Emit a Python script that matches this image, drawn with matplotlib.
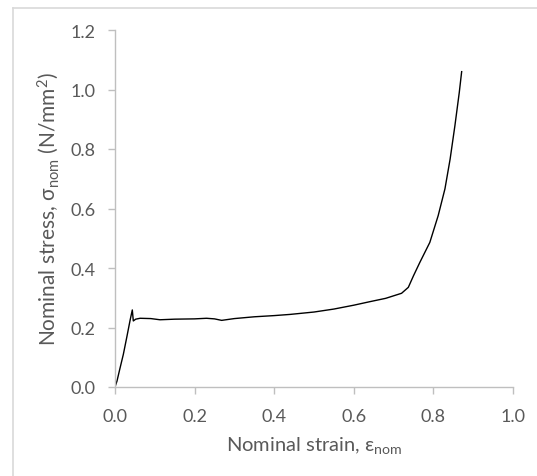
import matplotlib
matplotlib.use("Agg")
import matplotlib.pyplot as plt
from matplotlib.lines import Line2D

plt.rcParams['font.family'] = ['Lato', 'DejaVu Sans']
plt.rcParams['mathtext.fontset'] = 'custom'
plt.rcParams['mathtext.rm'] = 'Lato'
plt.rcParams['mathtext.it'] = 'Lato:italic'

strain = [0.000, 0.005, 0.012, 0.021, 0.030, 0.038, 0.0435, 0.046, 0.052, 0.063,
          0.090, 0.113, 0.150, 0.200, 0.230, 0.250, 0.268, 0.300, 0.350, 0.400,
          0.440, 0.500, 0.550, 0.600, 0.641, 0.680, 0.720, 0.737, 0.750, 0.766,
          0.791, 0.812, 0.829, 0.842, 0.854, 0.865, 0.871]
stress = [0.000, 0.020, 0.060, 0.110, 0.170, 0.225, 0.259, 0.222, 0.228, 0.231,
          0.230, 0.226, 0.228, 0.229, 0.231, 0.229, 0.224, 0.230, 0.236, 0.240,
          0.244, 0.252, 0.262, 0.275, 0.287, 0.298, 0.315, 0.335, 0.374, 0.419,
          0.486, 0.576, 0.666, 0.766, 0.878, 0.990, 1.060]

xticks = [0.0, 0.2, 0.4, 0.6, 0.8, 1.0]
yticks = [0.0, 0.2, 0.4, 0.6, 0.8, 1.0, 1.2]

W, H = 537, 477
fig = plt.figure(figsize=(W / 100, H / 100), dpi=100)
ax = fig.add_axes([115 / W, (H - 388) / H, (513 - 115) / W, (388 - 31) / H])

ax.plot(strain, stress, color='black', lw=1.0)
ax.set_xlim(0, 1.0)
ax.set_ylim(0, 1.2)
ax.set_xticks(xticks)
ax.set_yticks(yticks)
ax.set_xticklabels([f"{v:.1f}" for v in xticks])
ax.set_yticklabels([f"{v:.1f}" for v in yticks])

grey = '#595959'
axcol = '#bfbfbf'
for s in ['top', 'right']:
    ax.spines[s].set_visible(False)
for s in ['left', 'bottom']:
    ax.spines[s].set_color(axcol)
    ax.spines[s].set_linewidth(1.0)
ax.tick_params(axis='both', colors=axcol, labelcolor=grey, labelsize=13,
               length=5, width=1.0, direction='out')
ax.tick_params(axis='x', pad=10)
ax.tick_params(axis='y', pad=9)

ax.set_xlabel(r'Nominal strain, ε$_{\mathrm{nom}}$', fontsize=14.5, color=grey, labelpad=7)
ax.set_ylabel(r'Nominal stress, σ$_{\mathrm{nom}}$ (N/mm$^{2}$)', fontsize=15, color=grey, labelpad=7)

# chart border (partially cropped)
bc = '#d9d9d9'
fig.add_artist(Line2D([13 / W, 13 / W], [0, (H - 9) / H], transform=fig.transFigure, color=bc, lw=1.2))
fig.add_artist(Line2D([13 / W, 1], [(H - 9) / H, (H - 9) / H], transform=fig.transFigure, color=bc, lw=1.2))

fig.savefig('out.png', dpi=100)
